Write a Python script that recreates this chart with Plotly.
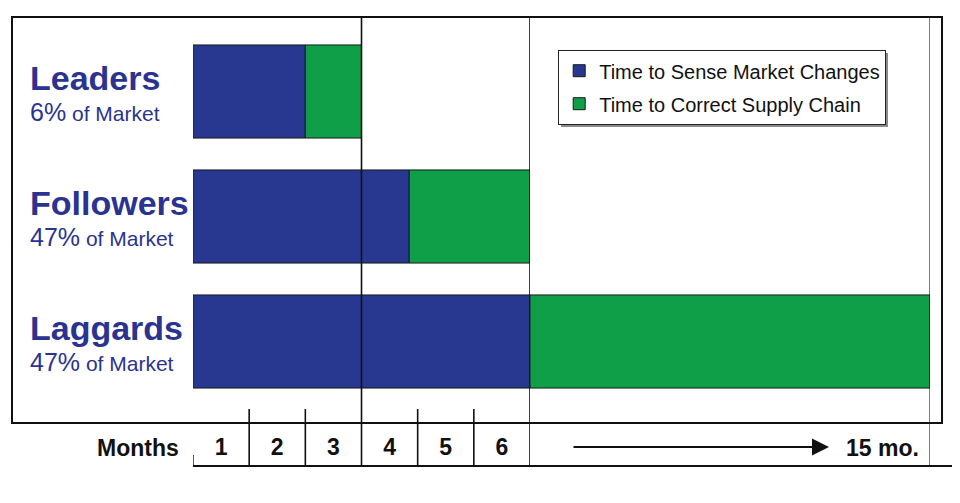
import plotly.graph_objects as go

# ---- data ----
groups = ["Leaders", "Followers", "Laggards"]
market_share = ["6%", "47%", "47%"]
sense_months = [2, 3.85, 6]        # Time to Sense Market Changes
correct_months = [1, 2.15, 9]      # Time to Correct Supply Chain
month_ticks = ["1", "2", "3", "4", "5", "6"]
end_label = "15 mo."
series_names = ["Time to Sense Market Changes", "Time to Correct Supply Chain"]

BLUE = "#283890"
GREEN = "#0E9F48"
TXT = "#2B3390"
FONT = "Liberation Sans, Arial, sans-serif"
BREAK = 6  # axis break after month 6

rows = list(range(len(groups)))
fig = go.Figure()

fig.add_trace(go.Bar(
    y=rows, x=sense_months, base=[0] * len(rows), orientation="h",
    xaxis="x", yaxis="y", width=0.745, name=series_names[0],
    marker=dict(color=BLUE, line=dict(color="#1a1a1a", width=1)),
    legendgroup="a", hoverinfo="skip"))

in_first = [i for i in rows if sense_months[i] + correct_months[i] <= BREAK]
in_second = [i for i in rows if sense_months[i] + correct_months[i] > BREAK]
fig.add_trace(go.Bar(
    y=in_first, x=[correct_months[i] for i in in_first],
    base=[sense_months[i] for i in in_first], orientation="h",
    xaxis="x", yaxis="y", width=0.745, name=series_names[1],
    marker=dict(color=GREEN, line=dict(color="#1a1a1a", width=1)),
    legendgroup="b", hoverinfo="skip"))
fig.add_trace(go.Bar(
    y=in_second, x=[correct_months[i] for i in in_second],
    base=[sense_months[i] for i in in_second], orientation="h",
    xaxis="x2", yaxis="y", width=0.745, name=series_names[1],
    marker=dict(color=GREEN, line=dict(color="#1a1a1a", width=1)),
    legendgroup="b", showlegend=False, hoverinfo="skip"))

# page offset of 8px (body margin) is compensated in the margins
OX, OY = 12, 17   # plot-area top-left in the final picture
PW, PH = 930, 406
def px(x):
    return (x - OX) / PW
def py(y):
    return (OY + PH - y) / PH

y_bottom_line = py(466)
shapes = []
shapes.append(dict(type="rect", xref="paper", yref="paper", x0=0, x1=1, y0=0, y1=1,
                   line=dict(color="#111", width=2), layer="above"))
for m in [3, 6]:
    shapes.append(dict(type="line", xref="x", yref="paper", x0=m, x1=m, y0=y_bottom_line, y1=1,
                       line=dict(color="#111", width=1.6), layer="above"))
for m in [1, 2, 4, 5]:
    shapes.append(dict(type="line", xref="x", yref="paper", x0=m, x1=m, y0=y_bottom_line, y1=py(409),
                       line=dict(color="#111", width=1.6), layer="above"))
shapes.append(dict(type="line", xref="x2", yref="paper", x0=15, x1=15, y0=y_bottom_line, y1=1,
                   line=dict(color="#111", width=1.1), layer="above"))
shapes.append(dict(type="line", xref="x", yref="paper", x0=0, x1=0, y0=y_bottom_line, y1=py(455),
                   line=dict(color="#111", width=1.4), layer="above"))
shapes.append(dict(type="line", xref="paper", yref="paper", x0=px(193), x1=px(955),
                   y0=y_bottom_line, y1=y_bottom_line,
                   line=dict(color="#111", width=2), layer="above"))
# legend shadow
shapes.append(dict(type="rect", xref="paper", yref="paper",
                   x0=px(561), x1=px(888), y0=py(127), y1=py(53),
                   fillcolor="#8a8a8a", line=dict(width=0), layer="above"))

annotations = []
for i, (g, s) in enumerate(zip(groups, market_share)):
    annotations.append(dict(xref="paper", yref="y", x=px(28), y=i - 0.11, xanchor="left",
                            yanchor="middle", showarrow=False, text=g,
                            font=dict(family=FONT, size=34, color=TXT, weight="bold")))
    annotations.append(dict(xref="paper", yref="y", x=px(28), y=i + 0.165, xanchor="left",
                            yanchor="middle", showarrow=False,
                            text=f"<span style='font-size:25px'>{s}</span> of Market",
                            font=dict(family=FONT, size=21, color=TXT)))

annotations.append(dict(xref="paper", yref="paper", x=px(181), y=py(448),
                        xanchor="right", yanchor="middle", showarrow=False, text="Months",
                        font=dict(family=FONT, size=23, color="#111", weight="bold")))
annotations.append(dict(xref="x2", yref="paper", x=15, y=py(448), xshift=-9,
                        xanchor="right", yanchor="middle", showarrow=False, text=end_label,
                        font=dict(family=FONT, size=23, color="#111", weight="bold")))
annotations.append(dict(xref="paper", yref="paper", x=px(829), y=py(447),
                        ax=-257, ay=0, axref="pixel", ayref="pixel", showarrow=True,
                        arrowhead=2, arrowsize=1.7, arrowwidth=2, arrowcolor="#111", text=""))

fig.update_layout(
    width=952, height=495,
    margin=dict(l=OX - 8, r=952 - (OX - 8) - PW, t=OY - 8, b=495 - (OY - 8) - PH),
    paper_bgcolor="white", plot_bgcolor="white",
    barmode="overlay",
    showlegend=True,
    legend=dict(x=px(558), y=py(50), xanchor="left", yanchor="top",
                bgcolor="white", bordercolor="#222", borderwidth=1.2,
                font=dict(family=FONT, size=20, color="#111"),
                traceorder="grouped", tracegroupgap=4),
    xaxis=dict(domain=[px(193), px(530)], range=[0, 6], anchor="y",
               showgrid=False, zeroline=False, showline=False,
               tickvals=[i + 0.5 for i in range(len(month_ticks))], ticktext=month_ticks,
               ticks="", ticklabelstandoff=8,
               tickfont=dict(family=FONT, size=23, color="#111", weight="bold")),
    xaxis2=dict(domain=[px(530), px(930)], range=[BREAK, 15], anchor="y",
                showgrid=False, zeroline=False, showline=False, showticklabels=False),
    yaxis=dict(range=[2.652, -0.596], showgrid=False, zeroline=False,
               showticklabels=False, showline=False),
    shapes=shapes, annotations=annotations,
)

fig.write_html("out.html")
